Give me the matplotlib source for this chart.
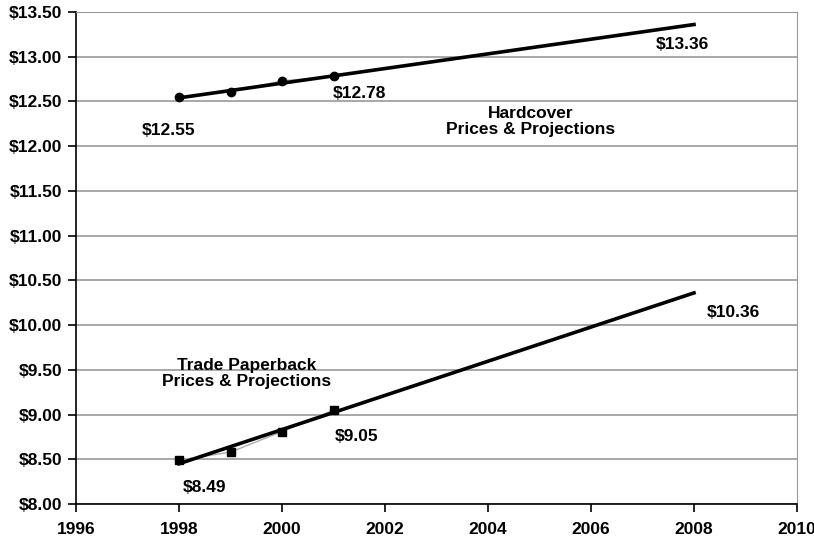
import numpy as np
import matplotlib.pyplot as plt

plt.rcParams['font.family'] = ['Liberation Sans', 'DejaVu Sans']
plt.rcParams['font.weight'] = 'bold'

years = [1998, 1999, 2000, 2001]
hardcover = [12.55, 12.61, 12.73, 12.78]
paperback = [8.49, 8.58, 8.81, 9.05]

trend_years = [1998, 2008]
hardcover_trend = [12.54, 13.36]
paperback_trend = [8.45, 10.36]

fig = plt.figure(figsize=(8.14, 5.42), dpi=100)
ax = fig.add_axes([76/814, 1 - 504/542, (797-76)/814, (504-12)/542])

# gridlines
for v in np.arange(8.0, 13.51, 0.5):
    ax.axhline(v, color='#999999', linewidth=1.2, zorder=0)

# actual data (thin gray) with markers
ax.plot(years, hardcover, color='#aaaaaa', linewidth=1, marker='o',
        markersize=6, markerfacecolor='black', markeredgecolor='black', zorder=3)
ax.plot(years, paperback, color='#aaaaaa', linewidth=1, marker='s',
        markersize=6, markerfacecolor='black', markeredgecolor='black', zorder=3)

# trend lines
ax.plot(trend_years, hardcover_trend, color='black', linewidth=2.6, zorder=4)
ax.plot(trend_years, paperback_trend, color='black', linewidth=2.6, zorder=4)

fs = 12.5
lab = dict(fontsize=fs, fontweight='bold', ha='center', va='center')
ax.text(1997.8, 12.18, '$12.55', **lab)
ax.text(2001.5, 12.59, '$12.78', **lab)
ax.text(2007.77, 13.14, '$13.36', **lab)
ax.text(2008.76, 10.14, '$10.36', **lab)
ax.text(1998.5, 8.19, '$8.49', **lab)
ax.text(2001.45, 8.75, '$9.05', **lab)
ax.text(2004.82, 12.28, 'Hardcover\nPrices & Projections', fontsize=fs,
        fontweight='bold', ha='center', va='center', linespacing=1.1)
ax.text(1999.32, 9.455, 'Trade Paperback\nPrices & Projections', fontsize=fs,
        fontweight='bold', ha='center', va='center', linespacing=1.1)

ax.set_xlim(1996, 2010)
ax.set_ylim(8.0, 13.5)
ax.set_xticks(np.arange(1996, 2011, 2))
ax.set_yticks(np.arange(8.0, 13.51, 0.5))
ax.set_yticklabels(['$%.2f' % v for v in np.arange(8.0, 13.51, 0.5)])
ax.tick_params(axis='both', labelsize=fs, length=6, width=1.2, direction='out')
ax.tick_params(axis='x', pad=7)
ax.tick_params(axis='y', pad=4)
for t in ax.get_xticklabels() + ax.get_yticklabels():
    t.set_fontweight('bold')

ax.spines['left'].set_color('black')
ax.spines['bottom'].set_color('black')
ax.spines['left'].set_linewidth(1.2)
ax.spines['bottom'].set_linewidth(1.2)
ax.spines['right'].set_color('#999999')
ax.spines['top'].set_color('#999999')

fig.savefig('out.png', dpi=100)
